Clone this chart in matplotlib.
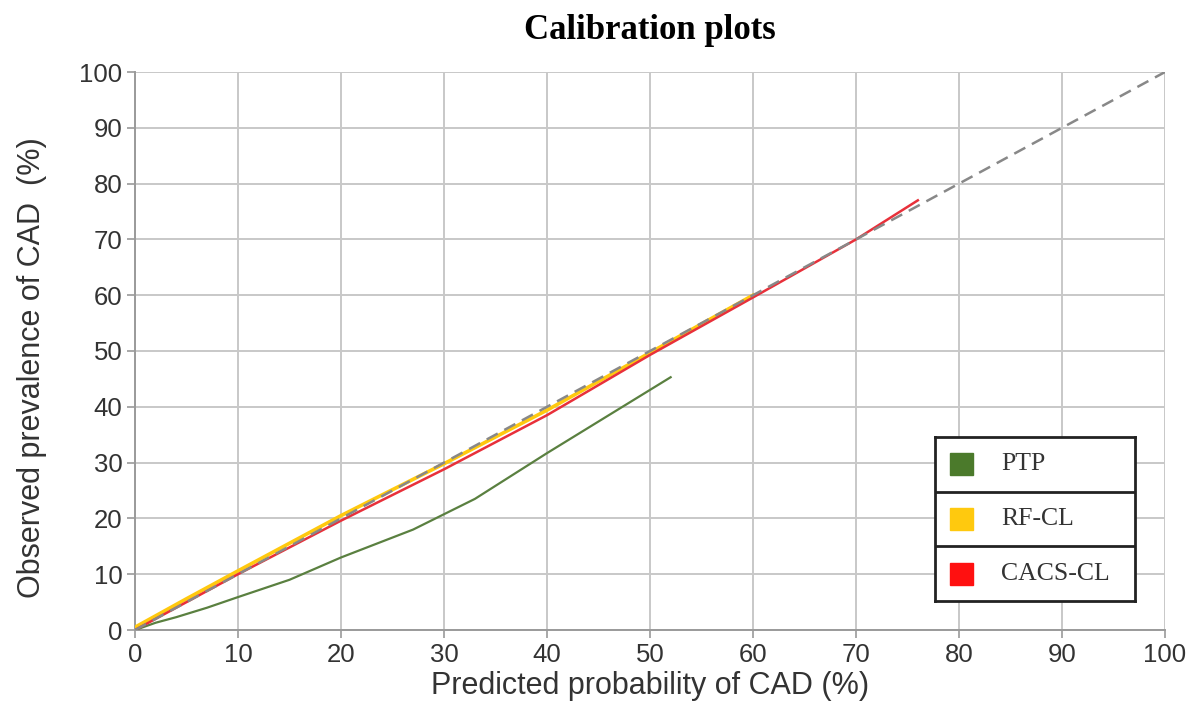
import matplotlib.pyplot as plt
from matplotlib.patches import Rectangle

# Calibration curves (predicted %, observed %)
ptp_x = [0, 2, 4, 7, 10, 15, 20, 27, 33, 40, 46, 52]
ptp_y = [0, 1.3, 2.3, 4.0, 5.9, 9.0, 13.0, 18.0, 23.5, 31.7, 38.5, 45.3]

rf_x = [0, 5, 10, 20, 30, 40, 50, 60]
rf_y = [0.5, 5.6, 10.6, 20.5, 29.8, 39.4, 49.7, 60.0]

cacs_x = [0, 5, 10, 20, 30, 40, 50, 60, 70, 76]
cacs_y = [0, 5.0, 10.0, 19.6, 28.8, 38.5, 49.3, 59.6, 70.0, 77.0]

ref_x = [0, 100]
ref_y = [0, 100]

labels = ['PTP', 'RF-CL', 'CACS-CL']
colors = ['#4b7a2b', '#ffc90e', '#ff1010']
ticks = list(range(0, 101, 10))

fig = plt.figure(figsize=(11.97, 7.2), dpi=100)
ax = fig.add_axes([0.1128, 0.125, 0.8605, 0.775])

ax.plot(ptp_x, ptp_y, color='#5a8040', lw=1.6, zorder=3)
ax.plot(rf_x, rf_y, color='#ffc90e', lw=2.6, zorder=3)
ax.plot(cacs_x, cacs_y, color='#e8303a', lw=1.8, zorder=4)
ax.plot(ref_x, ref_y, color='#888888', lw=1.8, ls=(0, (5, 3)), zorder=5)

ax.set_xlim(0, 100)
ax.set_ylim(0, 100)
ax.set_xticks(ticks)
ax.set_yticks(ticks)
ax.grid(True, color='#c8c8c8', lw=1.4)
ax.set_axisbelow(True)
for s in ['top', 'right']:
    ax.spines[s].set_visible(False)
for s in ['left', 'bottom']:
    ax.spines[s].set_color('#9a9a9a')
    ax.spines[s].set_linewidth(1.4)
ax.tick_params(length=6, width=1.2, color='#9a9a9a', labelsize=18.5,
               labelcolor='#333333', pad=3)
for lab in ax.get_xticklabels() + ax.get_yticklabels():
    lab.set_family('Liberation Sans')

ax.set_xlabel('Predicted probability of CAD (%)', fontsize=22,
              family='Liberation Sans', color='#333333', labelpad=3)
ax.set_ylabel('Observed prevalence of CAD  (%)', fontsize=22,
              family='Liberation Sans', color='#333333', labelpad=10)
ax.yaxis.set_label_coords(-0.085, 0.47)
ax.set_title('Calibration plots', fontsize=25, fontweight='bold',
             family='Liberation Serif', pad=24)

# legend box with three framed rows
lg = fig.add_axes([0.781, 0.165, 0.167, 0.228])
lg.set_xlim(0, 1)
lg.set_ylim(0, 3)
lg.set_xticks([])
lg.set_yticks([])
for s in lg.spines.values():
    s.set_linewidth(2)
    s.set_color('#222222')
for i, (lab, col) in enumerate(zip(labels, colors)):
    yc = 2.5 - i
    lg.add_patch(Rectangle((0.075, yc - 0.2), 0.115, 0.4, color=col))
    lg.text(0.33, yc, lab, ha='left', va='center', fontsize=18.5,
            family='Liberation Serif', color='#333333')
    if i > 0:
        lg.axhline(3 - i, color='#222222', lw=2)

fig.savefig('out.png', dpi=100)
